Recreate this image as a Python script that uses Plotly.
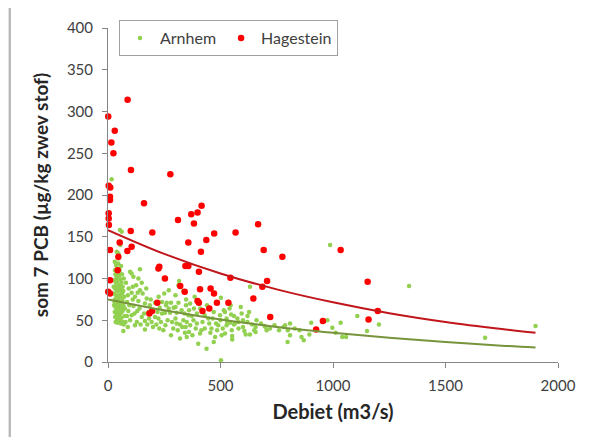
import plotly.graph_objects as go

# ---- data ----
hagestein_points = [
    (1, 294), (87, 314), (30, 277), (15, 263), (24, 250), (102, 230), (277, 225),
    (3, 211), (10, 209), (9, 198), (9, 194), (160, 190), (3, 178), (3, 172), (4, 164),
    (311, 170), (370, 177), (398, 179), (416, 187), (382, 166), (101, 157), (197, 155),
    (567, 155), (667, 165), (52, 143), (105, 138), (86, 133), (9, 134), (357, 143),
    (437, 146), (472, 154), (413, 132), (692, 134), (775, 126), (46, 126), (43, 110),
    (9, 98), (228, 114), (224, 112), (344, 115), (357, 115), (404, 108), (253, 100),
    (544, 101), (707, 97), (686, 90), (646, 76), (1, 84), (9, 82), (321, 91), (341, 84),
    (409, 87), (456, 88), (471, 82), (398, 73), (404, 71), (484, 71), (535, 71), (219, 71),
    (450, 64), (420, 61), (721, 54), (184, 58), (196, 61), (1034, 134), (1154, 96),
    (1199, 61), (1158, 51), (955, 49), (925, 39),
]

arnhem_points = [
    # dense cluster at low discharge
    (16, 219), (53, 158), (61, 156), (39, 132), (46, 130), (36, 116), (41, 112), (30, 120),
    (45, 118), (33, 105), (38, 102), (44, 108), (50, 104), (28, 98), (35, 95), (42, 96),
    (48, 92), (55, 99), (60, 95), (25, 90), (32, 88), (38, 86), (45, 85), (52, 88), (58, 86),
    (65, 90), (28, 82), (35, 80), (41, 78), (48, 80), (55, 78), (62, 82), (30, 75), (36, 72),
    (43, 74), (50, 72), (57, 70), (64, 74), (27, 68), (33, 66), (40, 65), (47, 67), (54, 64),
    (61, 66), (68, 68), (30, 60), (37, 58), (44, 60), (51, 57), (58, 59), (65, 61), (32, 54),
    (39, 52), (46, 55), (53, 51), (60, 53), (34, 48), (42, 47), (50, 49), (57, 46), (40, 100),
    (52, 110), (46, 124), (58, 115), (62, 105), (70, 100), (68, 85), (72, 78), (75, 64),
    (74, 55), (36, 90), (47, 76), (56, 62), (43, 68), (64, 48), (70, 45), (38, 62), (29, 72),
    (31, 110), (55, 140),
    # 70 - 200 m3/s
    (98, 108), (142, 111), (113, 102), (105, 106), (142, 86), (105, 83), (120, 78), (154, 82),
    (135, 73), (164, 70), (172, 76), (113, 67), (130, 61), (105, 56), (150, 54), (164, 49),
    (194, 48), (209, 54), (68, 37), (164, 39), (90, 61), (98, 50), (85, 72), (92, 88),
    (125, 92), (80, 95), (88, 80), (95, 68), (110, 90), (118, 58), (128, 48), (140, 64),
    (180, 60), (186, 68), (175, 45), (160, 58), (190, 75), (198, 62), (84, 55), (78, 48),
    (120, 44), (145, 45), (200, 42), (170, 88), (150, 95), (88, 42), (135, 100), (110, 75),
    (132, 83), (182, 52),
    # 200 - 400 m3/s
    (316, 97), (313, 92), (250, 82), (209, 71), (261, 71), (280, 71), (313, 71), (347, 75),
    (347, 68), (382, 64), (292, 65), (327, 62), (253, 59), (276, 59), (305, 59), (357, 56),
    (224, 52), (446, 52), (498, 56), (527, 52), (246, 38), (342, 35), (409, 34), (401, 22),
    (476, 30), (438, 16), (502, 2), (230, 65), (240, 58), (265, 50), (285, 48), (300, 52),
    (320, 45), (335, 50), (350, 48), (365, 44), (380, 50), (395, 46), (215, 45), (255, 44),
    (290, 40), (310, 38), (330, 42), (360, 36), (375, 32), (390, 40), (225, 78), (270, 86),
    (300, 80), (335, 85), (365, 70), (385, 78), (240, 72), (360, 62), (220, 60), (395, 58),
    (300, 66), (270, 64), (350, 30), (320, 28), (280, 32), (235, 48), (258, 68), (372, 55),
    (340, 58), (305, 46), (228, 40), (345, 42),
    # 400 - 850 m3/s
    (547, 57), (594, 58), (627, 60), (527, 44), (542, 47), (564, 46), (579, 48), (550, 38),
    (552, 31), (552, 27), (606, 37), (612, 33), (631, 33), (656, 42), (656, 36), (696, 43),
    (705, 38), (787, 44), (809, 46), (799, 38), (809, 32), (798, 24), (631, 90), (502, 77),
    (520, 60), (540, 64), (560, 55), (575, 52), (600, 50), (620, 48), (640, 45), (660, 50),
    (680, 46), (700, 42), (720, 40), (740, 44), (760, 38), (600, 42), (580, 40), (650, 38),
    (620, 55), (560, 45), (530, 48), (510, 40), (515, 62), (545, 68), (590, 66), (470, 60),
    (480, 46), (460, 40), (490, 44), (450, 46), (430, 56), (420, 48), (410, 64), (440, 68),
    (465, 52), (485, 38), (455, 35), (430, 40), (415, 38), (500, 50), (505, 32), (470, 24),
    (520, 34),
    # high discharge
    (987, 140), (1338, 91), (1108, 55), (1204, 45), (1034, 47), (975, 50), (903, 47),
    (997, 41), (1151, 37), (1041, 30), (1058, 30), (1676, 29), (1900, 43), (851, 38),
    (1012, 35), (780, 42), (830, 40), (860, 30), (870, 26), (895, 33),
]

# exponential trendlines, values
trend_debiet = [0, 250, 500, 750, 1000, 1250, 1500, 1750, 1900]
trend_hagestein = [158, 129.5, 106, 87, 71.5, 58.5, 48, 39.5, 35]
trend_arnhem = [75, 62, 51, 42, 35, 29, 24, 19.6, 17.5]

x_ticks = [0, 500, 1000, 1500, 2000]
y_ticks = [0, 50, 100, 150, 200, 250, 300, 350, 400]

arnhem_x = [p[0] for p in arnhem_points]
arnhem_y = [p[1] for p in arnhem_points]
hag_x = [p[0] for p in hagestein_points]
hag_y = [p[1] for p in hagestein_points]

FONT = "Lato, 'Open Sans', sans-serif"
AXIS_COL = "#868686"
TXT = "#404040"

fig = go.Figure()
fig.add_trace(go.Scatter(x=arnhem_x, y=arnhem_y, mode="markers", name="Arnhem",
                         marker=dict(color="#92d050", size=4.5, line=dict(width=0)),
                         cliponaxis=False))
fig.add_trace(go.Scatter(x=hag_x, y=hag_y, mode="markers", name="Hagestein",
                         marker=dict(color="#ff0000", size=6.5, line=dict(width=0)),
                         cliponaxis=False))
fig.add_trace(go.Scatter(x=trend_debiet, y=trend_hagestein, mode="lines", showlegend=False,
                         line=dict(color="#c0161b", width=2, shape="spline")))
fig.add_trace(go.Scatter(x=trend_debiet, y=trend_arnhem, mode="lines", showlegend=False,
                         line=dict(color="#77933c", width=2, shape="spline")))

# the page body has an 8px margin, so the figure is drawn at (8, 8)
OFF = 8
W, H = 599 - OFF, 437 - OFF
L, T = 108 - OFF, 28 - OFF
R = W - (558 - OFF)
B = H - (362 - OFF)
pw, ph = W - L - R, H - T - B

def px2paper_x(px):
    return (px - OFF - L) / pw

def px2paper_y(py):
    return (H - B - (py - OFF)) / ph

shapes = [
    # top strip tint
    dict(type="rect", xref="paper", yref="paper", x0=px2paper_x(300), x1=px2paper_x(640),
         y0=px2paper_y(5), y1=px2paper_y(-5), fillcolor="#e8ead4", line=dict(width=0),
         layer="below"),
    # white panel
    dict(type="rect", xref="paper", yref="paper", x0=px2paper_x(10), x1=px2paper_x(640),
         y0=px2paper_y(480), y1=px2paper_y(5), fillcolor="white",
         line=dict(color="#a6a6a6", width=1.5), layer="below"),
]

fig.update_layout(
    width=W, height=H,
    margin=dict(l=L, r=R, t=T, b=B, autoexpand=False),
    paper_bgcolor="#e4e4e2", plot_bgcolor="rgba(0,0,0,0)",
    font=dict(family=FONT, size=15, color=TXT),
    shapes=shapes,
    showlegend=True,
    legend=dict(orientation="h", x=px2paper_x(119), y=px2paper_y(20), xanchor="left",
                yanchor="top", bordercolor="#a0a0a0", borderwidth=1, bgcolor="white",
                font=dict(family=FONT, size=16, color=TXT), itemwidth=30,
                tracegroupgap=0),
    xaxis=dict(range=[0, 2000], tickvals=x_ticks, showgrid=False, zeroline=False,
               showline=True, linecolor=AXIS_COL, linewidth=1, ticks="outside",
               ticklen=5, tickcolor=AXIS_COL, tickfont=dict(size=15, color=TXT),
               ticklabelstandoff=5,
               title=dict(text="<b>Debiet (m3/s)</b>", font=dict(size=20, color="#262626"),
                          standoff=11)),
    yaxis=dict(range=[0, 400], tickvals=y_ticks, showgrid=False, zeroline=False,
               showline=True, linecolor=AXIS_COL, linewidth=1, ticks="outside",
               ticklen=5, tickcolor=AXIS_COL, tickfont=dict(size=15, color=TXT),
               ticklabelstandoff=6,
               title=dict(text="<b>som 7 PCB (µg/kg zwev stof)</b>",
                          font=dict(size=19, color="#262626"), standoff=13)),
)

fig.write_html("out.html")
